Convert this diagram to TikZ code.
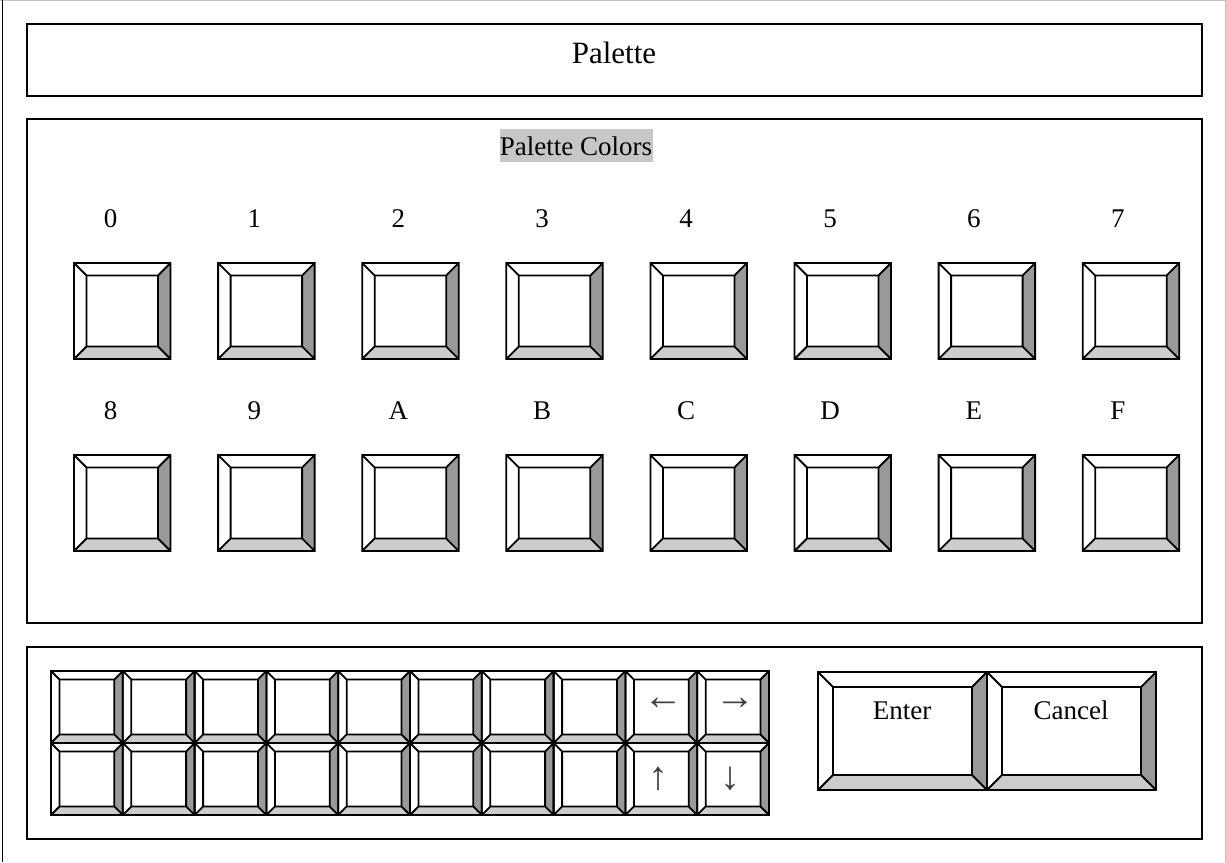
\documentclass[tikz,border=0pt]{standalone}
\usepackage{fontspec}
\setmainfont{Liberation Serif}
\tikzset{
  panel/.style={draw=black, line width=2pt},
  btnline/.style={draw=black, line width=1.8pt, line join=miter},
  darkbev/.style={fill=black!40},
  lightbev/.style={fill=black!20},
  lbl/.style={font=\fontsize{27}{30}\selectfont, anchor=base, inner sep=0pt},
  ttl/.style={font=\fontsize{31}{34}\selectfont, anchor=base, inner sep=0pt},
  arr/.style={font=\fontsize{40}{44}\selectfont, text=black!75, inner sep=0pt},
  hilite/.style={fill=black!22},
}
\newcommand\bevbtn[6]{%
  \path (#2,#3) coordinate (#1-a) ({#2+#4},#3) coordinate (#1-b)
        ({#2+#4},{#3+#5}) coordinate (#1-c) (#2,{#3+#5}) coordinate (#1-d)
        ({#2+#6},{#3+#6}) coordinate (#1-ia) ({#2+#4-#6},{#3+#6}) coordinate (#1-ib)
        ({#2+#4-#6},{#3+#5-#6}) coordinate (#1-ic) ({#2+#6},{#3+#5-#6}) coordinate (#1-id);
  \fill[darkbev] (#1-b) -- (#1-c) -- (#1-ic) -- (#1-ib) -- cycle;
  \fill[lightbev] (#1-d) -- (#1-c) -- (#1-ic) -- (#1-id) -- cycle;
  \draw[btnline] (#1-a) rectangle (#1-c) (#1-ia) rectangle (#1-ic)
        (#1-a) -- (#1-ia) (#1-b) -- (#1-ib) (#1-c) -- (#1-ic) (#1-d) -- (#1-id);
}
\begin{document}
\begin{tikzpicture}[x=1pt,y=-1pt]
\useasboundingbox (0,0) rectangle (1226,862);
% outer frame
\draw[black!25, line width=1pt] (0,0.5) -- (1225.5,0.5) -- (1225.5,862);
\draw[black, line width=1.5pt] (2.5,0) -- (2.5,862);
% panels
\draw[panel] (26.5,23.5) rectangle (1202,95.5);
\node[ttl] (title) at (614,63.3) {Palette};
\draw[panel] (26.5,118.5) rectangle (1202,623);
\fill[hilite] (500,128.5) rectangle (652.5,162);
\node[lbl] (pc) at (576,155.7) {Palette Colors};
\draw[panel] (26.5,647) rectangle (1202,839);
% palette buttons
\foreach \i/\t in {0/0,1/1,2/2,3/3,4/4,5/5,6/6,7/7}{
  \pgfmathsetmacro\bx{74+144.1*\i}
  \pgfmathsetmacro\lx{110.5+143.9*\i}
  \node[lbl] (la\i) at (\lx,227) {\t};
  \bevbtn{pa\i}{\bx}{263}{96.5}{96}{12.5}
}
\foreach \i/\t in {0/8,1/9,2/A,3/B,4/C,5/D,6/E,7/F}{
  \pgfmathsetmacro\bx{74+144.1*\i}
  \pgfmathsetmacro\lx{110.5+143.9*\i}
  \node[lbl] (lb\i) at (\lx,419) {\t};
  \bevbtn{pb\i}{\bx}{455}{96.5}{96}{12.5}
}
% keyboard keys
\foreach \c in {0,...,9}{
  \foreach \r in {0,1}{
    \pgfmathsetmacro\kx{51+71.8*\c}
    \pgfmathsetmacro\ky{671+72*\r}
    \bevbtn{k\c-\r}{\kx}{\ky}{71.8}{72}{8.5}
  }
}
\node[arr] (left) at (663,704) {←};
\node[arr] (right) at (735,704) {→};
\node[arr] (up) at (658,779) {↑};
\node[arr] (down) at (730,779) {↓};
% enter / cancel
\bevbtn{enter}{818}{672}{169}{118}{15}
\bevbtn{cancel}{987}{672}{169}{118}{15}
\node[lbl] (entert) at (902,719) {Enter};
\node[lbl] (cancelt) at (1071,719) {Cancel};
\end{tikzpicture}
\end{document}
